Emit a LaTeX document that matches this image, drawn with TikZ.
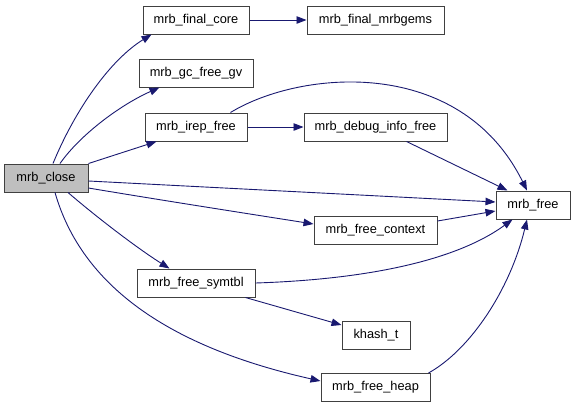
\documentclass[tikz,border=0pt]{standalone}
\usepackage{fontspec}
\setmainfont{Liberation Sans}
\usetikzlibrary{arrows.meta}
\definecolor{edgeblue}{HTML}{191970}
\definecolor{boxline}{HTML}{404040}
\begin{document}
\begin{tikzpicture}[x=1pt,y=-1pt,
  fn/.style={draw=boxline,line width=1pt,fill=white,minimum height=28pt,inner sep=0pt,
    font=\fontsize{12.8}{15}\selectfont},
  cur/.style={fn,fill=black!25},
  call/.style={draw=edgeblue,line width=0.9pt,-{Triangle[length=10pt,width=7.5pt]},edgeblue}]
\useasboundingbox (0,0) rectangle (576,408);
\node[cur,minimum width=84pt] (close) at (46,178) {mrb\_close};
\node[fn,minimum width=106pt] (fc) at (196,20) {mrb\_final\_core};
\node[fn,minimum width=114pt] (gc) at (196,73) {mrb\_gc\_free\_gv};
\node[fn,minimum width=102pt] (irep) at (196,127) {mrb\_irep\_free};
\node[fn,minimum width=137pt] (gems) at (375.5,20) {mrb\_final\_mrbgems};
\node[fn,minimum width=143pt] (dbg) at (375.5,127) {mrb\_debug\_info\_free};
\node[fn,minimum width=74pt] (mf) at (533,205) {mrb\_free};
\node[fn,minimum width=123pt] (ctx) at (375.5,230) {mrb\_free\_context};
\node[fn,minimum width=118pt] (sym) at (196,283) {mrb\_free\_symtbl};
\node[fn,minimum width=68pt] (kh) at (376,335) {khash\_t};
\node[fn,minimum width=109pt] (heap) at (375.5,387.5) {mrb\_free\_heap};

\draw[call] ([xshift=7pt]close.north) .. controls (75,110) and (110,60) .. ([xshift=9pt]fc.south west);
\draw[call] ([xshift=14pt]close.north) .. controls (80,135) and (120,105) .. ([xshift=21pt]gc.south west);
\draw[call] (close.north east) -- ([xshift=12pt]irep.south west);
\draw[call] ([yshift=-3pt]close.east) -- ([yshift=3pt]mf.west);
\draw[call] ([yshift=-10pt]close.east) .. controls (160,200) and (250,214) .. ([yshift=6pt]ctx.west);
\draw[call] ([xshift=22pt]close.south) .. controls (100,220) and (140,250) .. ([xshift=33pt]sym.north west);
\draw[call] ([xshift=9pt]close.south) .. controls (80,280) and (160,345) .. ([yshift=6.5pt]heap.west);
\draw[call] (fc.east) -- (gems.west);
\draw[call] (irep.east) -- (dbg.west);
\draw[call] ([xshift=-17pt]irep.north east) .. controls (300,70) and (460,55) .. ([xshift=-6pt]mf.north);
\draw[call] ([xshift=103pt]dbg.south west) -- ([xshift=12pt]mf.north west);
\draw[call] ([yshift=9pt]ctx.east) -- ([yshift=-6pt]mf.west);
\draw[call] (sym.east) .. controls (350,280) and (450,265) .. ([xshift=17pt]mf.south west);
\draw[call] ([xshift=-10pt]sym.south east) -- ([yshift=10pt]kh.west);
\draw[call] ([xshift=-2pt]heap.north east) .. controls (470,350) and (510,290) .. ([xshift=-6pt]mf.south);
\end{tikzpicture}
\end{document}
